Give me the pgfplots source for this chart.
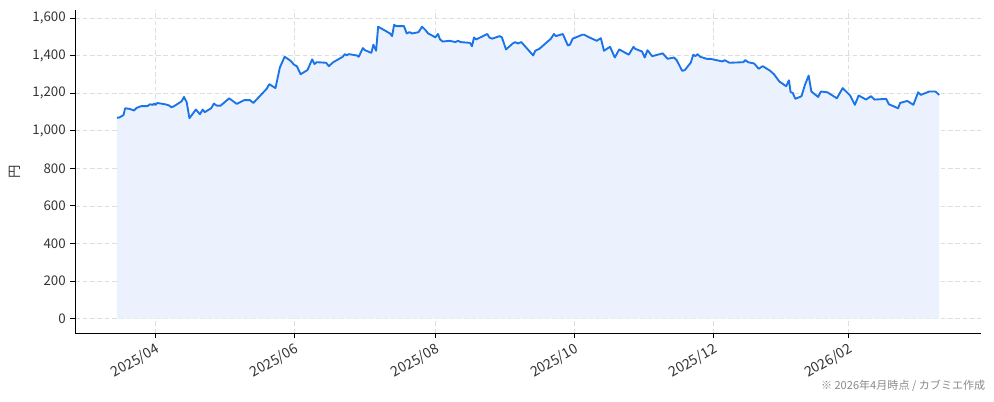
\documentclass[border=0pt]{standalone}
\usepackage{fontspec}
\setmainfont{Noto Sans CJK JP}
\usepackage{pgfplots}
\usepackage{pgfplotstable}
\pgfplotsset{compat=1.18}

\definecolor{linec}{HTML}{1A73E8}
\definecolor{fillc}{HTML}{EBF2FD}
\definecolor{gridc}{HTML}{DEDEDE}
\definecolor{tickc}{HTML}{333333}
\definecolor{notec}{HTML}{8A8A8A}

% x = trading-day index, y = price (yen)
\pgfplotstableread{
x y
0.0 1070
0.6 1070
1.9 1083
2.4 1120
3.8 1116
5.0 1108
5.8 1122
7.1 1131
8.9 1131
9.7 1141
10.5 1138
10.9 1145
11.3 1138
11.9 1148
14.4 1140
15.4 1134
16.0 1125
16.8 1131
19.0 1157
19.7 1180
20.5 1152
21.3 1067
23.2 1113
24.4 1088
25.2 1113
25.8 1099
27.7 1120
28.5 1145
29.3 1134
30.5 1134
33.0 1173
35.2 1143
37.4 1163
39.1 1163
40.1 1148
44.0 1223
44.8 1248
46.6 1227
47.9 1337
49.3 1394
51.1 1372
52.1 1351
52.9 1344
54.0 1301
56.0 1323
57.4 1380
58.1 1355
58.7 1365
61.5 1362
62.3 1344
63.6 1365
66.4 1394
67.0 1408
67.6 1401
68.1 1408
70.5 1401
71.1 1394
72.3 1440
72.9 1429
74.8 1415
75.4 1458
76.2 1426
76.8 1554
80.3 1518
80.9 1504
81.5 1564
82.1 1557
84.4 1557
85.2 1518
86.0 1525
86.8 1518
88.7 1525
89.7 1554
90.7 1536
91.5 1518
93.0 1504
93.6 1497
94.4 1515
95.0 1486
95.8 1475
97.9 1479
99.5 1472
100.3 1479
101.1 1472
103.8 1468
104.4 1450
105.0 1497
105.6 1486
108.9 1515
109.5 1497
110.3 1490
112.6 1504
113.2 1497
114.4 1433
116.4 1465
117.1 1472
117.9 1465
118.9 1472
122.4 1401
123.0 1426
124.2 1436
127.6 1490
128.5 1515
129.1 1504
131.1 1515
132.6 1454
133.2 1458
134.0 1490
136.8 1511
137.4 1511
138.9 1497
141.1 1479
142.3 1493
143.2 1426
145.0 1447
146.4 1390
147.7 1433
150.5 1405
151.9 1447
152.4 1436
154.4 1422
155.2 1390
156.0 1429
157.4 1397
160.5 1412
161.9 1383
163.8 1390
164.6 1376
166.2 1319
167.0 1323
168.7 1362
169.5 1405
170.1 1397
170.7 1408
171.5 1394
173.4 1383
174.4 1383
178.1 1369
178.7 1376
180.1 1362
184.2 1365
184.8 1376
185.6 1365
187.4 1358
188.7 1330
189.9 1344
192.1 1319
193.2 1301
194.8 1262
196.8 1237
197.6 1269
198.1 1205
198.7 1202
199.5 1170
201.3 1184
202.3 1244
203.4 1294
204.2 1209
206.2 1180
207.0 1209
208.9 1205
211.7 1173
213.4 1227
215.6 1188
217.0 1138
218.1 1188
220.3 1166
221.7 1184
222.8 1166
226.2 1170
227.0 1141
229.7 1120
230.3 1148
232.4 1159
234.2 1138
235.6 1205
236.4 1191
238.9 1209
239.9 1209
240.7 1209
241.8 1191
}\price

\begin{document}
\begin{tikzpicture}
\useasboundingbox (-56.475pt,-50.775pt) rectangle (689.025pt,249.975pt);
\begin{axis}[
  at={(0,0)}, anchor=south west,
  scale only axis,
  width=679.3pt, height=242.5pt,
  xmin=-12.26, xmax=254.1,
  ymin=-78, ymax=1643,
  axis x line*=bottom, axis y line*=left,
  axis line style={-, black, line width=0.8pt},
  tick align=outside,
  major tick length=3.6pt,
  tick style={black, line width=0.8pt},
  xtick={11.35,52.2,93.7,134.6,175.4,215.2},
  xticklabels={2025/04,2025/06,2025/08,2025/10,2025/12,2026/02},
  ytick={0,200,...,1600},
  grid=major,
  major grid style={gridc, line width=0.6pt, dash pattern=on 3.5pt off 2pt},
  /pgf/number format/assume math mode=true,
  /pgf/number format/1000 sep={,},
  scaled y ticks=false,
  yticklabel style={font=\fontsize{10}{12}\selectfont, text=tickc},
  xticklabel style={font=\fontsize{10.5}{12}\selectfont, text=tickc, rotate=30, anchor=north east, inner sep=2pt},
  ylabel={円},
  every axis y label/.style={at={(axis description cs:-0.0666,0.5)}, anchor=center, rotate=90, font=\fontsize{10}{12}\selectfont, text=tickc},
]
\addplot[fill=fillc, draw=none] table[x=x, y=y] {\price} \closedcycle;
\addplot[linec, line width=1.4pt, line join=round] table[x=x, y=y] {\price};
\end{axis}
\node[anchor=base east, text=notec, font=\fontsize{8.3}{10}\selectfont] at (686pt,-41.8pt) {※ 2026年4月時点 / カブミエ作成};
\end{tikzpicture}
\end{document}
